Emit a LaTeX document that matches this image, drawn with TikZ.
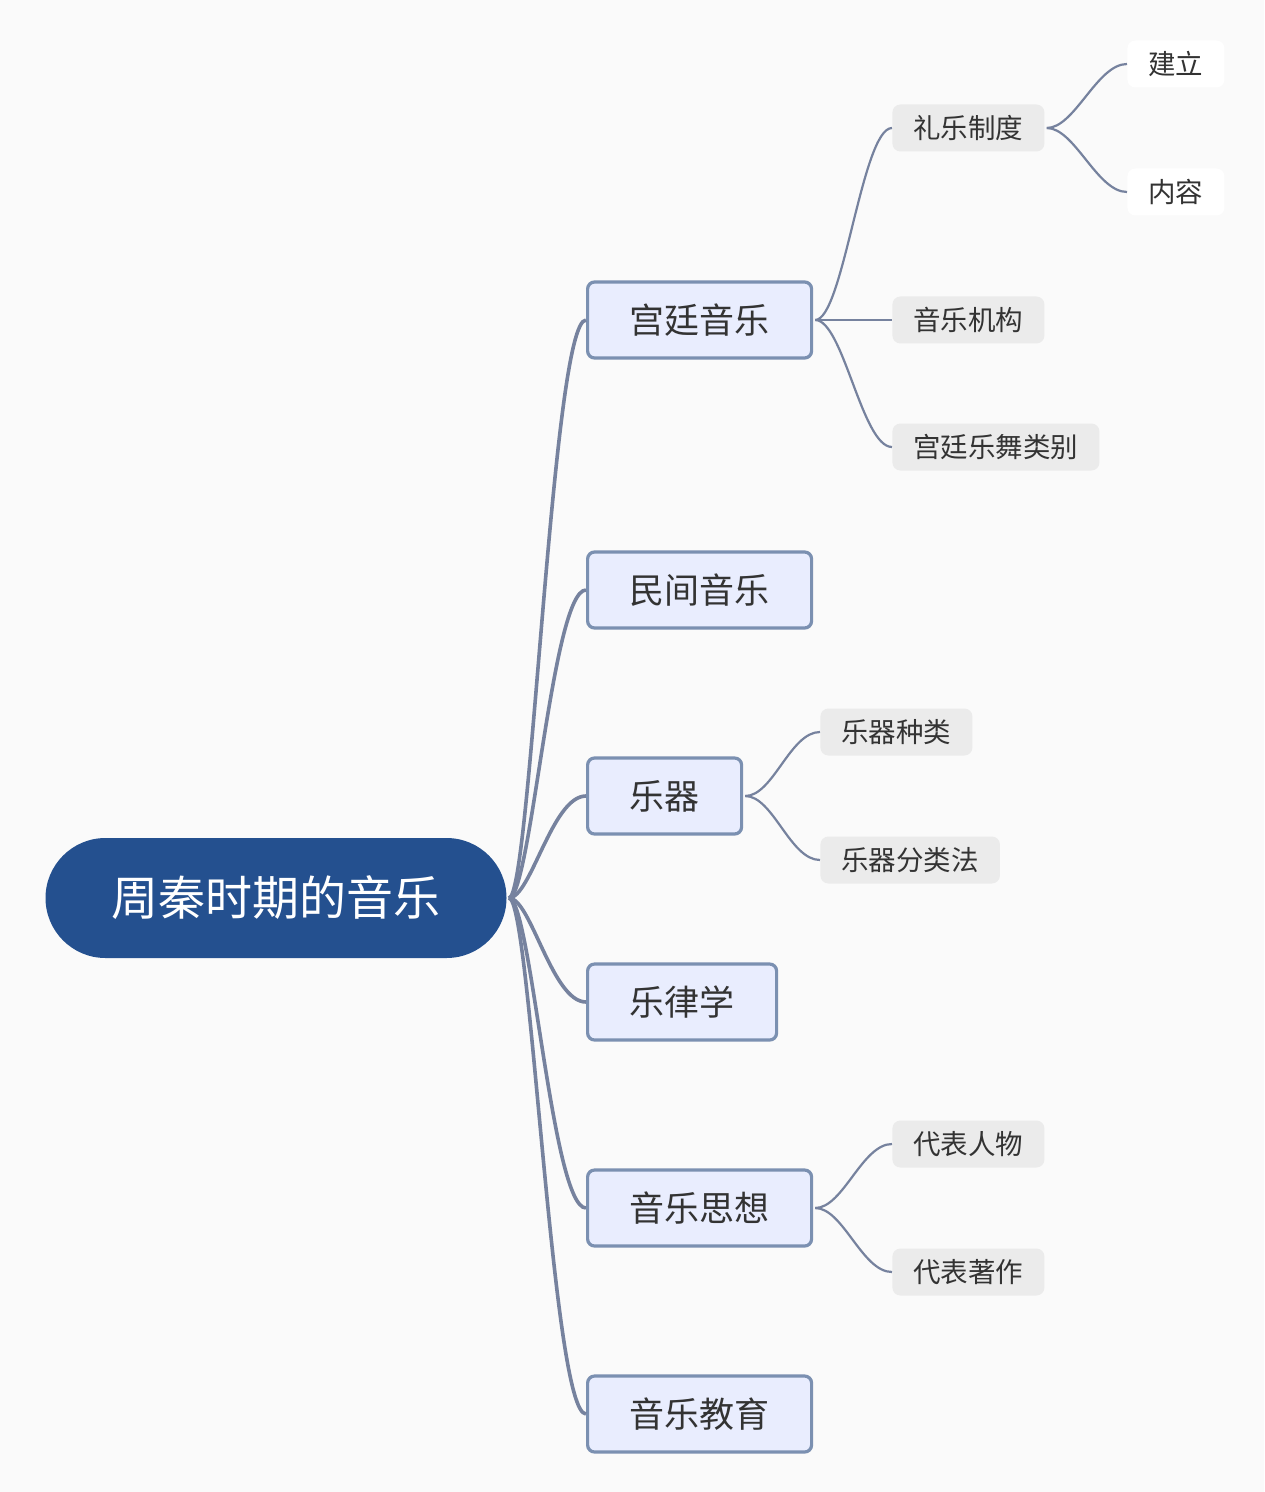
\documentclass[tikz,border=0pt]{standalone}
\usepackage{fontspec}
\setmainfont{Noto Sans CJK SC}
\definecolor{navy}{HTML}{24508F}
\definecolor{wire}{HTML}{76829E}
\definecolor{lavender}{HTML}{E9EDFE}
\definecolor{steel}{HTML}{7B90B1}
\definecolor{chip}{HTML}{EBEBEB}
\definecolor{ink}{HTML}{333333}
\definecolor{paper}{HTML}{FAFAFA}
\usepackage{tikz}
\usetikzlibrary{calc, positioning}

\tikzset{
  rootnode/.style={fill=navy, rounded corners=30pt, minimum height=60pt,
    inner xsep=33pt, text=white, font=\fontsize{23.5}{26}\selectfont},
  topic/.style={draw=steel, line width=1.6pt, fill=lavender, rounded corners=3.5pt,
    minimum height=38pt, inner xsep=21pt, text=ink, anchor=west,
    font=\fontsize{17.5}{20}\selectfont},
  subtopic/.style={fill=chip, rounded corners=4pt, minimum height=23.5pt,
    inner xsep=10.5pt, text=ink, anchor=west, font=\fontsize{13.75}{16}\selectfont},
  leaf/.style={subtopic, fill=white},
  trunk/.style={wire, line width=1.8pt},
  twig/.style={wire, line width=1.1pt},
}

\begin{document}
\begin{tikzpicture}[x=0.5pt, y=-0.5pt]
  \fill[paper] (0,0) rectangle (1264,1492);
  \useasboundingbox (0,0) rectangle (1264,1492);

  % centre
  \node[rootnode] (root) at (276,898) {周秦时期的音乐};

  % first level
  \node[topic] (court) at (586,320) {宫廷音乐};
  \node[topic] (folk) at (586,590) {民间音乐};
  \node[topic] (instr) at (586,796) {乐器};
  \node[topic] (tune) at (586,1002) {乐律学};
  \node[topic] (thought) at (586,1208) {音乐思想};
  \node[topic] (edu) at (586,1414) {音乐教育};

  % second level
  \node[subtopic] (rites) at (892,128) {礼乐制度};
  \node[subtopic] (office) at (892,320) {音乐机构};
  \node[subtopic] (dance) at (892,447) {宫廷乐舞类别};
  \node[subtopic] (kinds) at (820,732) {乐器种类};
  \node[subtopic] (classes) at (820,860) {乐器分类法};
  \node[subtopic] (people) at (892,1144) {代表人物};
  \node[subtopic] (works) at (892,1272) {代表著作};

  % third level
  \node[leaf] (setup) at (1127,64) {建立};
  \node[leaf] (scope) at (1127,192) {内容};

  \foreach \t in {court, folk, instr, tune, thought, edu}
    \draw[trunk] ($(root.east)+(2,0)$) .. controls +(22,0) and +(-34,0) .. (\t.west);

  \foreach \a/\b in {court/rites, court/office, court/dance, rites/setup, rites/scope,
                     instr/kinds, instr/classes, thought/people, thought/works}
    \draw[twig] ($(\a.east)+(2,0)$) .. controls +(28,0) and +(-30,0) .. (\b.west);
\end{tikzpicture}
\end{document}
